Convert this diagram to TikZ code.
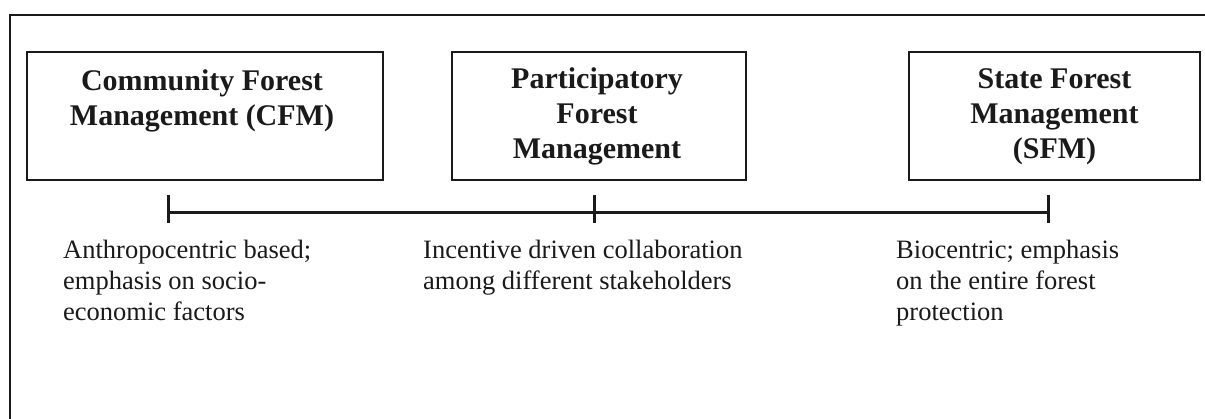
\documentclass[tikz,border=0pt]{standalone}
\usepackage{fontspec}
\setmainfont{Liberation Serif}
\definecolor{ink}{HTML}{1A1A1A}
\begin{document}
\begin{tikzpicture}[x=1pt,y=-1pt,
  box/.style={draw=ink,line width=2.2pt,rectangle,inner sep=0pt},
  title/.style={inner sep=0pt,align=center,text=ink,font=\bfseries\fontsize{30}{35}\selectfont},
  desc/.style={inner sep=0pt,align=left,text=ink,font=\fontsize{26.5}{31}\selectfont},
  axis/.style={draw=ink,line width=3pt},
  tickmark/.style={draw=ink,line width=3pt}]
\useasboundingbox (0,0) rectangle (1205,418);
% outer frame (only left and top edges are visible)
\coordinate (fbl) at (10,430);
\coordinate (ftl) at (10,15);
\coordinate (ftr) at (1215,15);
\draw[draw=ink,line width=2.4pt] (fbl) -- (ftl) -- (ftr);
% boxes
\node[box,minimum width=356,minimum height=128] (cfm) at (205,116) {};
\node[box,minimum width=294,minimum height=128] (pfm) at (599,116) {};
\node[box,minimum width=291,minimum height=128] (sfm) at (1054.5,116) {};
% titles (base anchor = baseline of last line)
\node[title,anchor=base] (cfmt) at (202,125) {Community Forest\\Management (CFM)};
\node[title,anchor=base] (pfmt) at (597,158) {Participatory\\Forest\\Management};
\node[title,anchor=base] (sfmt) at (1054.5,158) {State Forest\\Management\\(SFM)};
% timeline
\coordinate (t1) at (168,212);
\coordinate (t2) at (594,212);
\coordinate (t3) at (1048,212);
\draw[axis] (t1) -- (t3);
\foreach \t in {t1,t2,t3}
  \draw[tickmark] ([yshift=17pt]\t) -- ([yshift=-11pt]\t);
% descriptions
\node[desc,anchor=base west] (d1) at (63,320) {Anthropocentric based;\\emphasis on socio-\\economic factors};
\node[desc,anchor=base west] (d2) at (423,289) {Incentive driven collaboration\\among different stakeholders};
\node[desc,anchor=base west] (d3) at (896,320) {Biocentric; emphasis\\on the entire forest\\protection};
\end{tikzpicture}
\end{document}
